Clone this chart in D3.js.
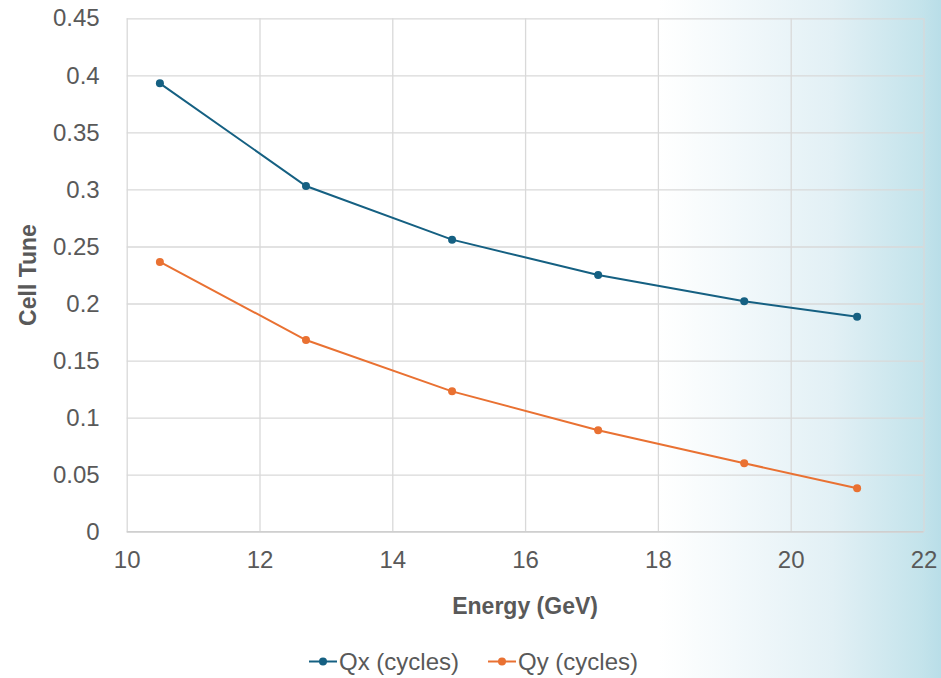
<!DOCTYPE html>
<html>
<head>
<meta charset="utf-8">
<script src="https://cdn.jsdelivr.net/npm/d3@7"></script>
<style>
  html, body { margin: 0; padding: 0; background: #fff; }
  svg { display: block; }
</style>
</head>
<body>
<svg id="chart" width="941" height="678"></svg>
<script>
const energy = [10.5, 12.7, 14.9, 17.1, 19.3, 21.0];
const qx = [0.393, 0.303, 0.256, 0.225, 0.202, 0.1885];
const qy = [0.2365, 0.168, 0.123, 0.089, 0.060, 0.038];
const seriesNames = ["Qx (cycles)", "Qy (cycles)"];
const seriesColors = ["#156082", "#E97132"];
const xTicks = [10, 12, 14, 16, 18, 20, 22];
const yTicks = [0, 0.05, 0.1, 0.15, 0.2, 0.25, 0.3, 0.35, 0.4, 0.45];
const xTitle = "Energy (GeV)";
const yTitle = "Cell Tune";

const W = 941, H = 678;
const m = { left: 126.7, right: 923.5, top: 18.3, bottom: 531.7 };
const font = "'Liberation Sans', Arial, sans-serif";
const svg = d3.select("#chart");

// background gradient
const defs = svg.append("defs");
const grad = defs.append("linearGradient").attr("id", "bg").attr("x1", 0).attr("x2", 1).attr("y1", 0).attr("y2", 0);
[[0, "#ffffff"], [0.70, "#ffffff"], [0.78, "#f3f9fb"], [0.885, "#e2f0f5"], [0.98, "#c3e3eb"], [1, "#b9dee8"]]
  .forEach(([o, c]) => grad.append("stop").attr("offset", o).attr("stop-color", c));
svg.append("rect").attr("width", W).attr("height", H).attr("fill", "url(#bg)");

const x = d3.scaleLinear().domain([10, 22]).range([m.left, m.right]);
const y = d3.scaleLinear().domain([0, 0.45]).range([m.bottom, m.top]);

// gridlines
const gx = svg.append("g").attr("transform", `translate(0,${m.bottom})`)
  .call(d3.axisBottom(x).tickValues(xTicks).tickSize(-(m.bottom - m.top)).tickFormat(d => d).tickPadding(19));
gx.select(".domain").remove();
gx.selectAll(".tick line").attr("stroke", "#d9d9d9").attr("stroke-width", 1.3);
gx.selectAll(".tick text").attr("fill", "#595959").attr("font-family", font).attr("font-size", 24).attr("dy", "0.71em");

const gy = svg.append("g").attr("transform", `translate(${m.left},0)`)
  .call(d3.axisLeft(y).tickValues(yTicks).tickSize(-(m.right - m.left)).tickFormat(d => String(+d.toFixed(2))).tickPadding(27));
gy.select(".domain").remove();
gy.selectAll(".tick line").attr("stroke", "#d9d9d9").attr("stroke-width", 1.3);
gy.selectAll(".tick text").attr("fill", "#595959").attr("font-family", font).attr("font-size", 24);

// bottom axis line
svg.append("line").attr("x1", m.left).attr("x2", m.right).attr("y1", m.bottom).attr("y2", m.bottom)
  .attr("stroke", "#cfcfcf").attr("stroke-width", 1.5);

// series
const series = [qx, qy];
const line = d3.line().x((d, i) => x(energy[i])).y(d => y(d));
series.forEach((vals, s) => {
  svg.append("path").datum(vals).attr("d", line).attr("fill", "none")
    .attr("stroke", seriesColors[s]).attr("stroke-width", 2);
  svg.append("g").selectAll("circle").data(vals).join("circle")
    .attr("cx", (d, i) => x(energy[i])).attr("cy", d => y(d)).attr("r", 4)
    .attr("fill", seriesColors[s]);
});

// axis titles
svg.append("text").attr("x", (m.left + m.right) / 2).attr("y", 614).attr("text-anchor", "middle")
  .attr("font-family", font).attr("font-weight", "bold").attr("font-size", 23).attr("fill", "#595959").text(xTitle);
svg.append("text").attr("transform", `translate(36,${(m.top + m.bottom) / 2}) rotate(-90)`).attr("text-anchor", "middle")
  .attr("font-family", font).attr("font-weight", "bold").attr("font-size", 23).attr("fill", "#595959").text(yTitle);

// legend
const legendX = [309, 488];
seriesNames.forEach((name, s) => {
  const g = svg.append("g").attr("transform", `translate(${legendX[s]},661.5)`);
  g.append("line").attr("x1", 0).attr("x2", 28).attr("stroke", seriesColors[s]).attr("stroke-width", 2);
  g.append("circle").attr("cx", 14).attr("r", 4).attr("fill", seriesColors[s]);
  g.append("text").attr("x", 30).attr("dy", "0.35em").attr("font-family", font).attr("font-size", 24)
    .attr("fill", "#595959").text(name);
});
</script>
</body>
</html>
